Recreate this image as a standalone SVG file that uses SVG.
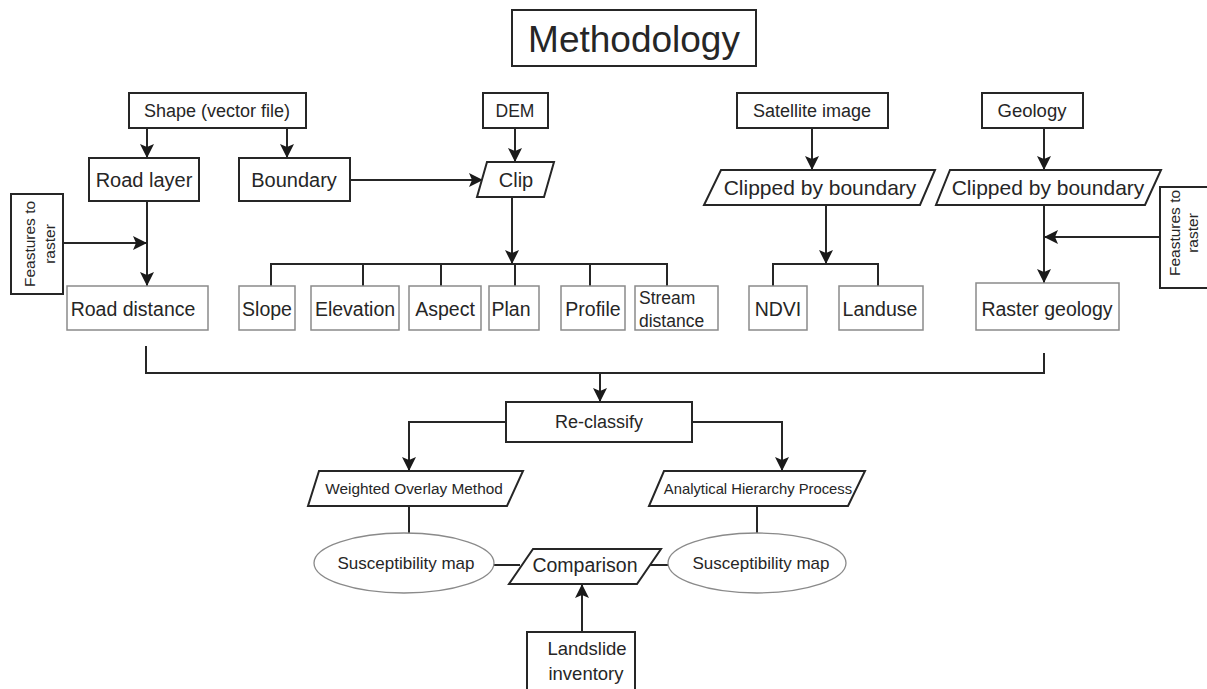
<svg xmlns="http://www.w3.org/2000/svg" width="1207" height="689" viewBox="0 0 1207 689">
<style>
text{font-family:"Liberation Sans",Arial,sans-serif;fill:#262626;}
.b{fill:#fff;stroke:#262626;stroke-width:2;}
.l{fill:#fff;stroke:#8a8a8a;stroke-width:1.5;}
.e{fill:#fff;stroke:#8a8a8a;stroke-width:1.3;}
.c{fill:none;stroke:#262626;stroke-width:2;}
.a{marker-end:url(#ah);}
.m{text-anchor:middle;}
</style>
<defs>
<marker id="ah" markerUnits="userSpaceOnUse" viewBox="0 0 14 14" refX="14" refY="7" markerWidth="14" markerHeight="14" orient="auto">
<path d="M0,0 L14,7 L0,14 L3,7 z" fill="#1a1a1a"/>
</marker>
</defs>
<rect width="1207" height="689" fill="#fff"/>

<g id="connectors">
<path class="c a" d="M147,128 V158"/>
<path class="c a" d="M287,128 V158"/>
<path class="c a" d="M515,128 V162"/>
<path class="c a" d="M350,180 H483"/>
<path class="c a" d="M147,201 V286"/>
<path class="c a" d="M63,243 H147"/>
<path class="c a" d="M512,197 V264"/>
<path class="c" d="M271,286 V264 H667 V286 M363,264 V286 M441,264 V286 M515,264 V286 M590,264 V286"/>
<path class="c a" d="M812,128 V170"/>
<path class="c a" d="M826,205 V264"/>
<path class="c" d="M773,286 V264 H878 V286"/>
<path class="c a" d="M1044,128 V170"/>
<path class="c a" d="M1044,205 V283"/>
<path class="c a" d="M1160,237 H1044"/>
<path class="c" d="M146,346 V373 H1044 V353"/>
<path class="c a" d="M600,373 V402"/>
<path class="c a" d="M506,422 H409 V471"/>
<path class="c a" d="M692,422 H782 V471"/>
<path class="c" d="M409,506 V533"/>
<path class="c" d="M757,506 V533"/>
<path class="c" d="M493,565 H520"/>
<path class="c" d="M646,565 H668"/>
<path class="c a" d="M582,632 V584"/>
</g>

<g id="title"><rect class="b" x="512" y="10" width="244" height="56"/><text class="m" x="634" y="52" font-size="37">Methodology</text></g>

<g id="shape"><rect class="b" x="129" y="93" width="177" height="35"/><text class="m" x="217" y="117" font-size="18">Shape (vector file)</text></g>
<g id="dem"><rect class="b" x="483" y="93" width="65" height="35"/><text class="m" x="515" y="117" font-size="17.5">DEM</text></g>
<g id="satellite"><rect class="b" x="737" y="93" width="151" height="35"/><text class="m" x="812" y="117" font-size="18">Satellite image</text></g>
<g id="geology"><rect class="b" x="982" y="93" width="101" height="35"/><text class="m" x="1032" y="117" font-size="18.5">Geology</text></g>

<g id="roadlayer"><rect class="b" x="89" y="158" width="110" height="43"/><text class="m" x="144" y="187" font-size="20">Road layer</text></g>
<g id="boundary"><rect class="b" x="239" y="158" width="111" height="43"/><text class="m" x="294" y="187" font-size="20">Boundary</text></g>
<g id="clip"><path class="b" d="M487,162 H554 L544,197 H477 Z"/><text class="m" x="516" y="187" font-size="20">Clip</text></g>
<g id="clipped1"><path class="b" d="M721,170 H935 L920,205 H704 Z"/><text class="m" x="820" y="195" font-size="21">Clipped by boundary</text></g>
<g id="clipped2"><path class="b" d="M950,170 H1161 L1145,205 H936 Z"/><text class="m" x="1048" y="195" font-size="21">Clipped by boundary</text></g>

<g id="ftr-left"><rect class="b" x="11" y="194" width="52" height="100"/>
<text class="m" font-size="15.5" transform="translate(35,244) rotate(-90)">Feastures to</text>
<text class="m" font-size="15.5" transform="translate(55,244) rotate(-90)">raster</text></g>
<g id="ftr-right"><rect class="b" x="1160" y="187" width="52" height="101"/>
<text class="m" font-size="15.5" transform="translate(1180,233) rotate(-90)">Feastures to</text>
<text class="m" font-size="15.5" transform="translate(1198,233) rotate(-90)">raster</text></g>

<g id="roaddistance"><rect class="l" x="67" y="286" width="141" height="44"/><text class="m" x="133" y="316" font-size="19.5">Road distance</text></g>
<g id="slope"><rect class="l" x="239" y="286" width="56" height="44"/><text class="m" x="267" y="316" font-size="19.5">Slope</text></g>
<g id="elevation"><rect class="l" x="311" y="286" width="88" height="44"/><text class="m" x="355" y="316" font-size="19.5">Elevation</text></g>
<g id="aspect"><rect class="l" x="409" y="286" width="72" height="44"/><text class="m" x="445" y="316" font-size="19.5">Aspect</text></g>
<g id="plan"><rect class="l" x="489" y="286" width="50" height="44"/><text class="m" x="511" y="316" font-size="19.5">Plan</text></g>
<g id="profile"><rect class="l" x="561" y="286" width="64" height="44"/><text class="m" x="593" y="316" font-size="19.5">Profile</text></g>
<g id="stream"><rect class="l" x="635" y="286" width="83" height="44"/><text x="639" y="304" font-size="17.5">Stream</text><text x="639" y="327" font-size="17.5">distance</text></g>
<g id="ndvi"><rect class="l" x="749" y="286" width="58" height="44"/><text class="m" x="778" y="316" font-size="19.5">NDVI</text></g>
<g id="landuse"><rect class="l" x="839" y="286" width="84" height="44"/><text class="m" x="880" y="316" font-size="19.5">Landuse</text></g>
<g id="rastergeology"><rect class="l" x="976" y="283" width="143" height="47"/><text class="m" x="1047" y="316" font-size="19.5">Raster geology</text></g>

<g id="reclassify"><rect class="b" x="506" y="402" width="186" height="40"/><text class="m" x="599" y="428" font-size="18">Re-classify</text></g>
<g id="wom"><path class="b" d="M319,471 H523 L507,506 H308 Z"/><text class="m" x="414" y="494" font-size="15.4">Weighted Overlay Method</text></g>
<g id="ahp"><path class="b" d="M664,471 H865 L848,506 H649 Z"/><text class="m" x="758" y="494" font-size="14.8">Analytical Hierarchy Process</text></g>
<g id="susc1"><ellipse class="e" cx="404" cy="563" rx="90" ry="30"/><text class="m" x="406" y="569" font-size="17">Susceptibility map</text></g>
<g id="susc2"><ellipse class="e" cx="757" cy="563" rx="89" ry="30"/><text class="m" x="761" y="569" font-size="17">Susceptibility map</text></g>
<g id="comparison"><path class="b" d="M533,549 H661 L637,584 H509 Z"/><text class="m" x="585" y="572" font-size="19.5">Comparison</text></g>
<g id="landslide"><rect class="b" x="527" y="632" width="108" height="62"/><text class="m" x="587" y="655" font-size="18.5">Landslide</text><text class="m" x="586" y="680" font-size="18.5">inventory</text></g>
</svg>
